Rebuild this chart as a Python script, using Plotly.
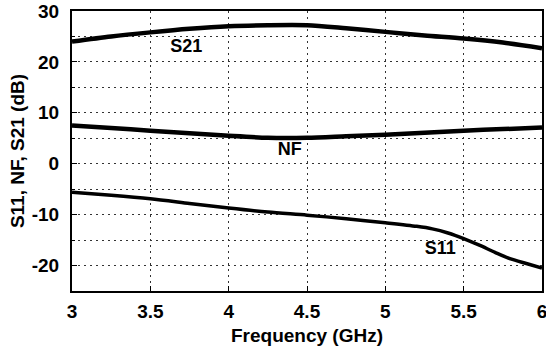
import plotly.graph_objects as go

freq = [3.0, 3.25, 3.5, 3.75, 4.0, 4.25, 4.5, 4.75, 5.0, 5.25, 5.5, 5.75, 6.0]
s21 = [24.0, 25.0, 25.8, 26.5, 27.0, 27.2, 27.2, 26.6, 25.9, 25.2, 24.6, 23.8, 22.7]
nf = [7.5, 7.0, 6.5, 6.0, 5.5, 5.1, 5.1, 5.4, 5.7, 6.1, 6.5, 6.8, 7.1]

freq_s11 = [3.0, 3.25, 3.5, 3.75, 4.0, 4.25, 4.5, 4.75, 5.0, 5.2, 5.3, 5.4, 5.5, 5.6, 5.7, 5.8, 5.9, 6.0]
s11 = [-5.6, -6.2, -6.9, -7.8, -8.7, -9.5, -10.1, -10.8, -11.6, -12.3, -12.8, -13.6, -14.7, -16.0, -17.4, -18.7, -19.6, -20.5]

labels = ["S21", "NF", "S11"]
label_x = [3.73, 4.39, 5.35]
label_y = [22.9, 2.6, -16.8]

x_ticks = [3, 3.5, 4, 4.5, 5, 5.5, 6]
x_ticktext = ["3", "3.5", "4", "4.5", "5", "5.5", "6"]
y_ticks = [-20, -10, 0, 10, 20, 30]

FAM = "Liberation Sans, Arial"
TICK_SIZE = 19

fig = go.Figure()
for xs, ys, name, w in [(freq, s21, "S21", 4.5), (freq, nf, "NF", 4.5), (freq_s11, s11, "S11", 3.5)]:
    fig.add_trace(go.Scatter(x=xs, y=ys, mode="lines", name=name,
                             line=dict(color="black", width=w, shape="spline", smoothing=0.8)))

fig.add_trace(go.Scatter(x=label_x, y=label_y, mode="text", text=labels,
                         textfont=dict(family=FAM, size=18, color="black"),
                         texttemplate="<b>%{text}</b>", showlegend=False))

grid = dict(gridcolor="#333333", griddash="2px,4px", gridwidth=1)
fig.update_layout(
    width=546, height=358,
    margin=dict(l=72, r=4, t=11, b=67),
    paper_bgcolor="white", plot_bgcolor="white",
    showlegend=False,
    font=dict(family=FAM, size=TICK_SIZE, color="black"),
    xaxis=dict(
        range=[3, 6], tickvals=x_ticks,
        ticktext=["<b>%s</b>" % t for t in x_ticktext],
        showline=True, mirror=True, linecolor="black", linewidth=2,
        ticks="inside", ticklen=5, tickcolor="black",
        ticklabelstandoff=2, ticklabeloverflow="allow", automargin=False,
        showgrid=True, **grid,
        zeroline=False,
        title=dict(text="<b>Frequency (GHz)</b>", font=dict(family=FAM, size=19), standoff=8),
    ),
    yaxis=dict(
        range=[-25, 30], tickvals=y_ticks, ticktext=["<b>%d</b>" % v for v in y_ticks],
        showline=True, mirror=True, linecolor="black", linewidth=2,
        ticks="inside", ticklen=5, tickcolor="black",
        ticklabelstandoff=7, ticklabeloverflow="allow", automargin=False,
        showgrid=True, **grid,
        minor=dict(dtick=5, tick0=0, showgrid=True, ticks="inside", ticklen=3, tickcolor="black", **grid),
        zeroline=False,
        title=dict(text="<b>S11, NF, S21 (dB)</b>", font=dict(family=FAM, size=19), standoff=2),
    ),
)

# remove the page's default body margin so the figure fills the window exactly
fig.write_html("out.html", config={"displayModeBar": False},
               post_script="document.body.style.margin='0';")
